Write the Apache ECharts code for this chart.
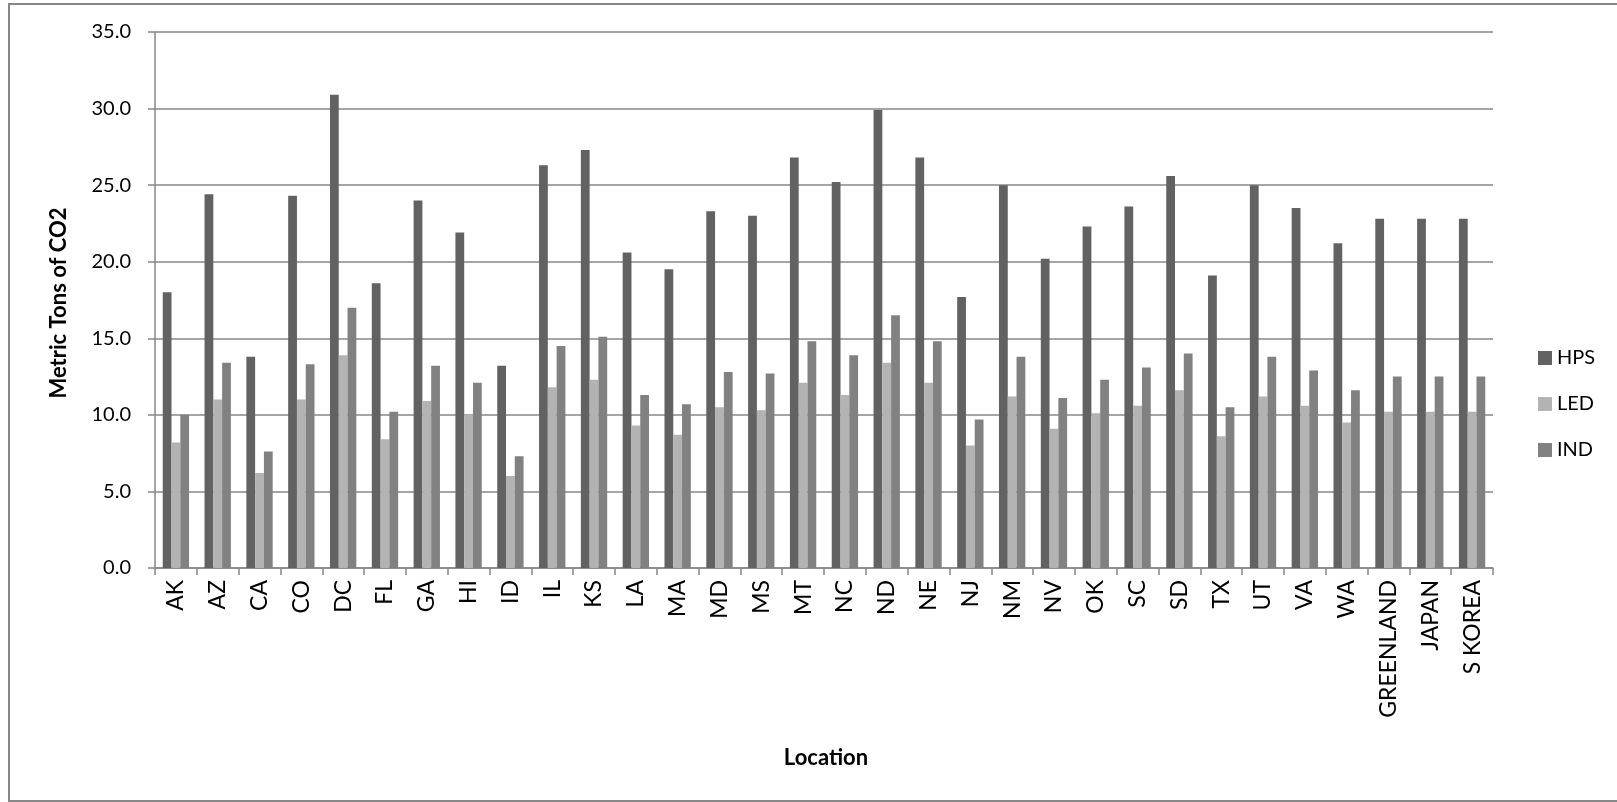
<!DOCTYPE html>
<html>
<head>
<meta charset="utf-8">
<script src="https://cdn.jsdelivr.net/npm/echarts@6/dist/echarts.min.js"></script>
<style>
html,body{margin:0;padding:0;background:#fff;}
#chart{width:1617px;height:802px;}
</style>
</head>
<body>
<div id="chart"></div>
<script>
const categories = ['AK','AZ','CA','CO','DC','FL','GA','HI','ID','IL','KS','LA','MA','MD','MS','MT','NC','ND','NE','NJ','NM','NV','OK','SC','SD','TX','UT','VA','WA','GREENLAND','JAPAN','S KOREA'];
const hps = [18.0,24.4,13.8,24.3,30.9,18.6,24.0,21.9,13.2,26.3,27.3,20.6,19.5,23.3,23.0,26.8,25.2,29.9,26.8,17.7,25.0,20.2,22.3,23.6,25.6,19.1,25.0,23.5,21.2,22.8,22.8,22.8];
const led = [8.2,11.0,6.2,11.0,13.9,8.4,10.9,10.0,6.0,11.8,12.3,9.3,8.7,10.5,10.3,12.1,11.3,13.4,12.1,8.0,11.2,9.1,10.1,10.6,11.6,8.6,11.2,10.6,9.5,10.2,10.2,10.2];
const ind = [10.0,13.4,7.6,13.3,17.0,10.2,13.2,12.1,7.3,14.5,15.1,11.3,10.7,12.8,12.7,14.8,13.9,16.5,14.8,9.7,13.8,11.1,12.3,13.1,14.0,10.5,13.8,12.9,11.6,12.5,12.5,12.5];
const seriesNames = ['HPS','LED','IND'];
const yTicks = {min: 0, max: 35, interval: 5};

const chart = echarts.init(document.getElementById('chart'), null, {renderer: 'canvas'});
const font = 'Lato, "Open Sans", sans-serif';
const gridColor = '#878787';
const colors = ['#626262', '#b3b3b3', '#818181'];

chart.setOption({
  animation: false,
  backgroundColor: '#ffffff',
  color: colors,
  grid: {left: 155, right: 124, top: 32, bottom: 234, containLabel: false},
  legend: {
    orient: 'vertical',
    left: 1533,
    top: 343,
    itemWidth: 14,
    itemHeight: 14,
    itemGap: 26,
    icon: 'rect',
    textStyle: {fontFamily: font, fontSize: 20, color: '#000'},
    data: seriesNames
  },
  xAxis: {
    type: 'category',
    data: categories,
    axisLine: {lineStyle: {color: gridColor, width: 1.5}},
    axisTick: {show: true, length: 7, interval: 0, lineStyle: {color: gridColor, width: 1.5}},
    axisLabel: {rotate: 90, interval: 0, margin: 12, fontFamily: font, fontSize: 23, color: '#000'},
  },
  yAxis: {
    type: 'value',
    min: yTicks.min, max: yTicks.max, interval: yTicks.interval,
    axisLine: {show: true, lineStyle: {color: gridColor, width: 1.5}},
    axisTick: {show: true, length: 7, lineStyle: {color: gridColor, width: 1.5}},
    splitLine: {lineStyle: {color: gridColor, width: 1.5}},
    axisLabel: {margin: 24, fontFamily: font, fontSize: 20, color: '#000', formatter: v => v.toFixed(1)}
  },
  graphic: [
    {type: 'rect', shape: {x: 9, y: 4, width: 1640, height: 797}, style: {fill: null, stroke: '#878787', lineWidth: 2}, silent: true, z: -1},
    {type: 'text', x: 59, y: 303, rotation: Math.PI/2, style: {text: 'Metric Tons of CO2', fontFamily: font, fontWeight: 'bold', fontSize: 22, fill: '#000', align: 'center', verticalAlign: 'middle'}},
    {type: 'text', x: 826, y: 758, style: {text: 'Location', fontFamily: font, fontWeight: 'bold', fontSize: 22, fill: '#000', align: 'center', verticalAlign: 'middle'}}
  ],
  series: [
    {name: seriesNames[0], type: 'bar', data: hps, barGap: '0%', barCategoryGap: '37%'},
    {name: seriesNames[1], type: 'bar', data: led, barGap: '0%', barCategoryGap: '37%'},
    {name: seriesNames[2], type: 'bar', data: ind, barGap: '0%', barCategoryGap: '37%'}
  ]
});
</script>
</body>
</html>
